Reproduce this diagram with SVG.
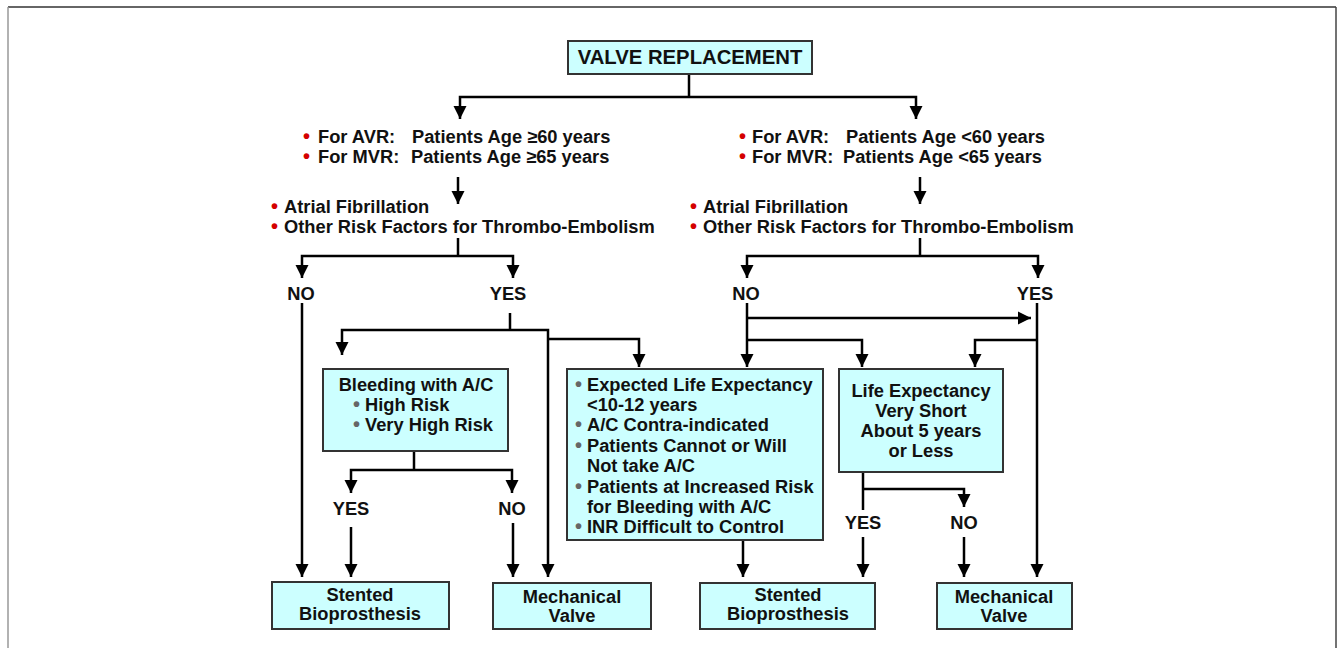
<svg xmlns="http://www.w3.org/2000/svg" width="1341" height="648" viewBox="0 0 1341 648">
<style>
text{font-family:"Liberation Sans",Arial,sans-serif;font-weight:bold;font-size:18.3px;fill:#111}
.c{text-anchor:middle}
.t{font-size:20.3px}
.rb{fill:#d40000;font-size:20px}
.gb{fill:#666;font-size:20px}
.box{fill:#ccffff;stroke:#333;stroke-width:2}
.ln{fill:none;stroke:#000;stroke-width:2.5}
.ar{marker-end:url(#ah)}
</style>
<defs>
<marker id="ah" markerUnits="userSpaceOnUse" markerWidth="14" markerHeight="14" viewBox="0 0 14 14" refX="13" refY="7" orient="auto">
<path d="M0,0.5 L13,7 L0,13.5 z" fill="#000"/>
</marker>
</defs>
<rect width="1341" height="648" fill="#fff"/>
<line x1="8" y1="7" x2="1336" y2="7" stroke="#333" stroke-width="1.5"/>
<line x1="8" y1="7" x2="8" y2="648" stroke="#999" stroke-width="1.5"/>
<line x1="1336" y1="7" x2="1336" y2="648" stroke="#444" stroke-width="1.5"/>

<g id="connectors">
<path class="ln" d="M689,74 V97"/>
<path class="ln ar" d="M689,97 H460 V119"/>
<path class="ln ar" d="M689,97 H916 V119"/>
<path class="ln ar" d="M458,177 V204"/>
<path class="ln ar" d="M920,177 V204"/>
<path class="ln" d="M458,238 V256"/>
<path class="ln ar" d="M458,256 H302 V278"/>
<path class="ln ar" d="M458,256 H513 V278"/>
<path class="ln" d="M920,238 V256"/>
<path class="ln ar" d="M920,256 H747 V278"/>
<path class="ln ar" d="M920,256 H1038 V278"/>
<path class="ln ar" d="M302,303 V577"/>
<path class="ln" d="M510,313 V330"/>
<path class="ln ar" d="M510,330 H342 V355"/>
<path class="ln ar" d="M510,330 H548 V577"/>
<path class="ln ar" d="M548,339 H639 V367"/>
<path class="ln" d="M414,451 V470"/>
<path class="ln ar" d="M414,470 H351 V493"/>
<path class="ln ar" d="M414,470 H512 V493"/>
<path class="ln ar" d="M351,527 V577"/>
<path class="ln ar" d="M513,523 V577"/>
<path class="ln ar" d="M747,303 V367"/>
<path class="ln ar" d="M747,318 H1031"/>
<path class="ln ar" d="M747,340 H862 V367"/>
<path class="ln ar" d="M1037,303 V577"/>
<path class="ln ar" d="M1037,340 H975 V367"/>
<path class="ln" d="M863,472 V510"/>
<path class="ln ar" d="M863,489 H964 V507"/>
<path class="ln ar" d="M863,537 V577"/>
<path class="ln ar" d="M964,537 V577"/>
<path class="ln ar" d="M743,540 V577"/>
</g>

<g id="title">
<rect class="box" x="568" y="41" width="244" height="33"/>
<text class="c t" x="690" y="64">VALVE REPLACEMENT</text>
</g>

<g id="age-high">
<text class="rb" x="303" y="143">•</text>
<text x="318" y="143">For AVR:<tspan x="412">Patients Age ≥60 years</tspan></text>
<text class="rb" x="303" y="163">•</text>
<text x="318" y="163">For MVR:<tspan x="411">Patients Age ≥65 years</tspan></text>
</g>

<g id="age-low">
<text class="rb" x="739" y="143">•</text>
<text x="752" y="143">For AVR:<tspan x="846">Patients Age &lt;60 years</tspan></text>
<text class="rb" x="739" y="163">•</text>
<text x="752" y="163">For MVR:<tspan x="843">Patients Age &lt;65 years</tspan></text>
</g>

<g id="risk-left">
<text class="rb" x="271" y="213">•</text>
<text x="284" y="213">Atrial Fibrillation</text>
<text class="rb" x="271" y="233">•</text>
<text x="284" y="233">Other Risk Factors for Thrombo-Embolism</text>
</g>

<g id="risk-right">
<text class="rb" x="690" y="213">•</text>
<text x="703" y="213">Atrial Fibrillation</text>
<text class="rb" x="690" y="233">•</text>
<text x="703" y="233">Other Risk Factors for Thrombo-Embolism</text>
</g>

<g id="labels">
<text class="c" x="301" y="300">NO</text>
<text class="c" x="508" y="300">YES</text>
<text class="c" x="746" y="300">NO</text>
<text class="c" x="1035" y="300">YES</text>
<text class="c" x="351" y="515">YES</text>
<text class="c" x="512" y="515">NO</text>
<text class="c" x="863" y="529">YES</text>
<text class="c" x="964" y="529">NO</text>
</g>

<g id="bleeding">
<rect class="box" x="323" y="369" width="185" height="82"/>
<text class="c" x="416" y="391">Bleeding with A/C</text>
<text class="gb" x="353" y="411">•</text>
<text x="365" y="411">High Risk</text>
<text class="gb" x="353" y="431">•</text>
<text x="365" y="431">Very High Risk</text>
</g>

<g id="expected">
<rect class="box" x="567" y="369" width="256" height="171"/>
<text class="gb" x="575" y="391">•</text>
<text x="587" y="391">Expected Life Expectancy</text>
<text x="587" y="411">&lt;10-12 years</text>
<text class="gb" x="575" y="431">•</text>
<text x="587" y="431">A/C Contra-indicated</text>
<text class="gb" x="575" y="452">•</text>
<text x="587" y="452">Patients Cannot or Will</text>
<text x="587" y="472">Not take A/C</text>
<text class="gb" x="575" y="493">•</text>
<text x="587" y="493">Patients at Increased Risk</text>
<text x="587" y="513">for Bleeding with A/C</text>
<text class="gb" x="575" y="533">•</text>
<text x="587" y="533">INR Difficult to Control</text>
</g>

<g id="life">
<rect class="box" x="839" y="369" width="164" height="103"/>
<text class="c" x="921" y="397">Life Expectancy</text>
<text class="c" x="921" y="417">Very Short</text>
<text class="c" x="921" y="437">About 5 years</text>
<text class="c" x="921" y="457">or Less</text>
</g>

<g id="stented-1">
<rect class="box" x="272" y="582" width="177" height="47"/>
<text class="c" x="360" y="601">Stented</text>
<text class="c" x="360" y="620">Bioprosthesis</text>
</g>

<g id="mechanical-1">
<rect class="box" x="493" y="583" width="158" height="46"/>
<text class="c" x="572" y="603">Mechanical</text>
<text class="c" x="572" y="622">Valve</text>
</g>

<g id="stented-2">
<rect class="box" x="700" y="583" width="175" height="46"/>
<text class="c" x="788" y="601">Stented</text>
<text class="c" x="788" y="620">Bioprosthesis</text>
</g>

<g id="mechanical-2">
<rect class="box" x="937" y="583" width="135" height="46"/>
<text class="c" x="1004" y="603">Mechanical</text>
<text class="c" x="1004" y="622">Valve</text>
</g>
</svg>
